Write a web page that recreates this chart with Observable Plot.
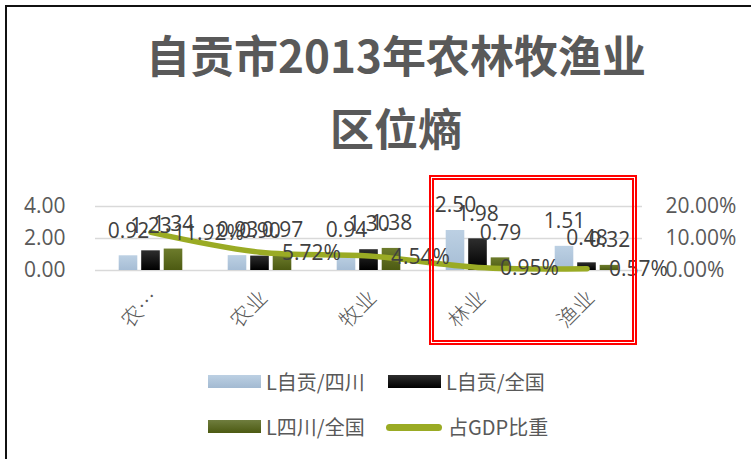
<!DOCTYPE html>
<html>
<head>
<meta charset="utf-8">
<script src="https://cdn.jsdelivr.net/npm/d3@7"></script>
<script src="https://cdn.jsdelivr.net/npm/@observablehq/plot@0.6"></script>
<style>
  html, body { margin: 0; padding: 0; background: #fff; }
  #page { position: relative; width: 751px; height: 459px; overflow: hidden; background: #fff; }
  .frame-left { position: absolute; left: 5px; top: 5px; width: 2px; height: 460px; background: #111; }
  .frame-top { position: absolute; left: 5px; top: 5px; width: 760px; height: 2px; background: #111; }
  .title { position: absolute; left: 0; width: 792px; text-align: center; font-family: "Noto Sans CJK SC", sans-serif; font-weight: 700; font-size: 44px; line-height: 44px; color: #595959; white-space: nowrap; }
  #chart { position: absolute; left: 0; top: 150px; }
  .redbox { position: absolute; left: 429px; top: 175px; width: 208px; height: 170px; box-sizing: border-box; border: 5px double #ff0000; }
  .lg { position: absolute; font-family: "Noto Sans CJK SC", sans-serif; font-size: 20px; line-height: 20px; color: #595959; white-space: nowrap; }
  .sw { position: absolute; height: 13px; width: 53px; }
</style>
</head>
<body>
<div id="page">
  <div class="frame-left"></div>
  <div class="frame-top"></div>
  <div class="title" style="top:32px">自贡市2013年农林牧渔业</div>
  <div class="title" style="top:105px">区位熵</div>
  <div id="chart"></div>
  <div class="redbox"></div>
  <div id="legend"></div>
</div>
<script>
// ---- data ----
const categories = ["农林牧渔业", "农业", "牧业", "林业", "渔业"];
const lqZigongSichuan = [0.92, 0.93, 0.94, 2.50, 1.51];   // L自贡/四川
const lqZigongChina   = [1.23, 0.90, 1.30, 1.98, 0.48];   // L自贡/全国
const lqSichuanChina  = [1.34, 0.97, 1.38, 0.79, 0.32];   // L四川/全国
const gdpShare        = [11.92, 5.72, 4.54, 0.95, 0.57];  // 占GDP比重 (%)
const leftTicks  = [0, 2, 4];
const rightTicks = [0, 10, 20];          // percent
const seriesNames = ["L自贡/四川", "L自贡/全国", "L四川/全国", "占GDP比重"];
const pctPerUnit = 5;                    // right axis: 20% aligns with 4.00

const rows = categories.map((c, i) => ({
  cat: c,
  a: lqZigongSichuan[i],
  b: lqZigongChina[i],
  c: lqSichuanChina[i],
  g: gdpShare[i]
}));

const numFont = "'Open Sans', 'Liberation Sans', sans-serif";
const off = 22.5, inset = 45.2, labelDy = -25, labelSize = 21;

const svg = Plot.plot({
  width: 751,
  height: 210,
  marginLeft: 95,
  marginRight: 109,
  marginTop: 56,
  marginBottom: 90,
  style: { fontFamily: numFont, background: "transparent", overflow: "visible" },
  x: { domain: categories, padding: 0, axis: null },
  y: { domain: [0, 4], axis: null },
  marks: [
    Plot.gridY(leftTicks, { stroke: "#d9d9d9", strokeOpacity: 1, strokeWidth: 1.5 }),
    Plot.axisY(leftTicks, { anchor: "left", tickSize: 0, tickPadding: 30, tickFormat: d => d.toFixed(2), fontSize: labelSize, fill: "#595959", label: null }),
    Plot.axisY(rightTicks.map(d => d / pctPerUnit), { anchor: "right", tickSize: 0, tickPadding: 23, tickFormat: d => (d * pctPerUnit).toFixed(2) + "%", fontSize: labelSize, fill: "#595959", label: null }),
    Plot.axisX({ tickRotate: -45, tickSize: 0, tickPadding: 24, dx: 4, tickFormat: d => d.length > 2 ? d[0] + "…" : d, fontSize: 21, fontFamily: "'Noto Sans CJK SC', sans-serif", fontWeight: 300, fill: "#595959", label: null }),
    Plot.barY(rows, { x: "cat", y: "a", dx: -off, insetLeft: inset, insetRight: inset, fill: "url(#gA)" }),
    Plot.barY(rows, { x: "cat", y: "b", dx: 0, insetLeft: inset, insetRight: inset, fill: "url(#gB)" }),
    Plot.barY(rows, { x: "cat", y: "c", dx: off, insetLeft: inset, insetRight: inset, fill: "url(#gC)" }),
    Plot.lineY(rows, { x: "cat", y: d => d.g / pctPerUnit, stroke: "#9aab24", strokeWidth: 5.5, curve: "catmull-rom", strokeLinecap: "round" }),
    Plot.text(rows, { x: "cat", y: "a", text: d => d.a.toFixed(2), dx: -off, dy: labelDy, fontSize: labelSize, fill: "#404040" }),
    Plot.text(rows, { x: "cat", y: "b", text: d => d.b.toFixed(2), dx: 0, dy: labelDy, fontSize: labelSize, fill: "#404040" }),
    Plot.text(rows, { x: "cat", y: "c", text: d => d.c.toFixed(2), dx: off, dy: labelDy, fontSize: labelSize, fill: "#404040" }),
    Plot.text(rows, { x: "cat", y: d => d.g / pctPerUnit, text: d => d.g.toFixed(2) + "%", dx: 22, dy: 1, textAnchor: "start", fontSize: labelSize, fill: "#404040" })
  ]
});

svg.insertAdjacentHTML("afterbegin", `
<defs>
  <linearGradient id="gA" x1="0" y1="0" x2="0" y2="1"><stop offset="0" stop-color="#bcd0e3"/><stop offset="1" stop-color="#a6bdd5"/></linearGradient>
  <linearGradient id="gB" x1="0" y1="0" x2="0" y2="1"><stop offset="0" stop-color="#2e2e2e"/><stop offset="1" stop-color="#000"/></linearGradient>
  <linearGradient id="gC" x1="0" y1="0" x2="0" y2="1"><stop offset="0" stop-color="#6d7c2c"/><stop offset="1" stop-color="#4c5a12"/></linearGradient>
</defs>`);
document.getElementById("chart").appendChild(svg);

// ---- legend ----
const legend = document.getElementById("legend");
const items = [
  { name: seriesNames[0], kind: "bar", bg: "linear-gradient(#bcd0e3,#a3bad2)", sx: 208, tx: 266, y: 382 },
  { name: seriesNames[1], kind: "bar", bg: "linear-gradient(#2e2e2e,#000)", sx: 388, tx: 446, y: 382 },
  { name: seriesNames[2], kind: "bar", bg: "linear-gradient(#6f7d3e,#4c5a12)", sx: 208, tx: 266, y: 427 },
  { name: seriesNames[3], kind: "line", bg: "#9aab24", sx: 386, tx: 448, y: 427 }
];
items.forEach(it => {
  const sw = document.createElement("div");
  sw.className = "sw";
  sw.style.left = it.sx + "px";
  if (it.kind === "bar") {
    sw.style.top = (it.y - 7) + "px";
    sw.style.background = it.bg;
  } else {
    sw.style.top = (it.y - 3.5) + "px";
    sw.style.height = "7px";
    sw.style.width = "56px";
    sw.style.borderRadius = "4px";
    sw.style.background = it.bg;
  }
  legend.appendChild(sw);
  const t = document.createElement("div");
  t.className = "lg";
  t.style.left = it.tx + "px";
  t.style.top = (it.y - 10) + "px";
  t.textContent = it.name;
  legend.appendChild(t);
});
</script>
</body>
</html>
